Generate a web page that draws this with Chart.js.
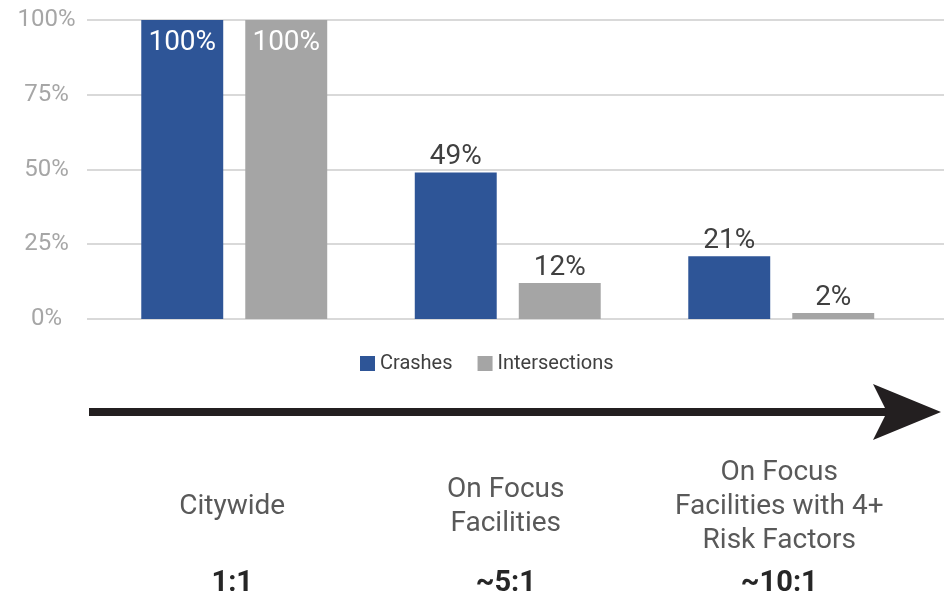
<!DOCTYPE html>
<html>
<head>
<meta charset="utf-8">
<script src="https://cdn.jsdelivr.net/npm/chart.js@4"></script>
<style>
  html, body { margin: 0; padding: 0; background: #fff; }
  #wrap { width: 949px; height: 596px; }
</style>
</head>
<body>
<div id="wrap"><canvas id="chart"></canvas></div>
<script>
const categories = [["Citywide"], ["On Focus", "Facilities"], ["On Focus", "Facilities with 4+", "Risk Factors"]];
const ratios = ["1:1", "~5:1", "~10:1"];
const crashes = [100, 49, 21];
const intersections = [100, 12, 2];
const yTicks = [0, 25, 50, 75, 100];

const FONT = "Roboto, 'Noto Sans', sans-serif";

// gridlines run a little past the plot on both sides, like the original
const gridPlugin = {
    id: "wideGrid",
    beforeDatasetsDraw(chart) {
        const ctx = chart.ctx;
        const y = chart.scales.y;
        ctx.save();
        ctx.strokeStyle = "#d9d9d9";
        ctx.lineWidth = 2;
        y.ticks.forEach((t) => {
            const py = Math.round(y.getPixelForValue(t.value));
            ctx.beginPath();
            ctx.moveTo(87, py);
            ctx.lineTo(944, py);
            ctx.stroke();
        });
        ctx.restore();
    },
};

const valueLabels = {
    id: "valueLabels",
    afterDatasetsDraw(chart) {
        const ctx = chart.ctx;
        ctx.save();
        ctx.font = "28px " + FONT;
        ctx.textAlign = "center";
        ctx.textBaseline = "alphabetic";
        chart.data.datasets.forEach((ds, di) => {
            chart.getDatasetMeta(di).data.forEach((bar, i) => {
                const v = ds.data[i];
                if (v >= 100) {
                    ctx.fillStyle = "#ffffff";
                    ctx.fillText(v + "%", bar.x, bar.y + 30);
                } else {
                    ctx.fillStyle = "#404040";
                    ctx.fillText(v + "%", bar.x, bar.y - 8);
                }
            });
        });
        ctx.restore();
    },
};

const extras = {
    id: "extras",
    afterDraw(chart) {
        const ctx = chart.ctx;
        const x = chart.scales.x;
        ctx.save();

        // legend
        ctx.font = "20px " + FONT;
        ctx.textBaseline = "middle";
        ctx.textAlign = "left";
        let lx = 360;
        chart.data.datasets.forEach((ds) => {
            ctx.fillStyle = ds.backgroundColor;
            ctx.fillRect(lx, 356, 15, 15);
            ctx.fillStyle = "#404040";
            ctx.fillText(ds.label, lx + 20, 364);
            lx += 20 + ctx.measureText(ds.label).width + 25;
        });

        // arrow
        ctx.fillStyle = "#231f20";
        ctx.fillRect(89, 408, 800, 8);
        ctx.beginPath();
        ctx.moveTo(873, 384);
        ctx.lineTo(941, 412);
        ctx.lineTo(873, 440);
        ctx.lineTo(887, 412);
        ctx.closePath();
        ctx.fill();

        // category captions and ratios
        ctx.textAlign = "center";
        categories.forEach((lines, i) => {
            const cx = x.getPixelForValue(i) - 2;
            ctx.font = "28px " + FONT;
            ctx.fillStyle = "#595959";
            lines.forEach((line, j) => {
                ctx.fillText(line, cx, 507 + (j - (lines.length - 1) / 2) * 34);
            });
            ctx.font = "bold 29px " + FONT;
            ctx.fillStyle = "#262626";
            ctx.fillText(ratios[i], cx, 584);
        });
        ctx.restore();
    },
};

new Chart(document.getElementById("chart").getContext("2d"), {
    type: "bar",
    data: {
        labels: categories,
        datasets: [
            {
                label: "Crashes",
                data: crashes,
                backgroundColor: "#2e5597",
                borderWidth: 0,
                categoryPercentage: 0.7605,
                barPercentage: 0.788,
            },
            {
                label: "Intersections",
                data: intersections,
                backgroundColor: "#a5a5a5",
                borderWidth: 0,
                categoryPercentage: 0.7605,
                barPercentage: 0.788,
            },
        ],
    },
    options: {
        responsive: true,
        maintainAspectRatio: false,
        animation: false,
        layout: {
            padding: { top: 20, left: 0, right: 31, bottom: 277 },
        },
        scales: {
            x: {
                display: false,
            },
            y: {
                min: 0,
                max: 100,
                afterBuildTicks: (s) => {
                    s.ticks = yTicks.map((v) => ({ value: v }));
                },
                afterFit: (s) => {
                    s.width = 97.5;
                    // tick padding would otherwise push the plot down
                    s.paddingTop = 0;
                    s.paddingBottom = 0;
                },
                grid: { display: false },
                border: { display: false },
                ticks: {
                    padding: 14,
                    crossAlign: "center",
                    color: "#a6a6a6",
                    font: { family: FONT, size: 24 },
                    callback: (v) => v + "%",
                },
            },
        },
        plugins: {
            legend: { display: false },
            tooltip: { enabled: false },
        },
    },
    plugins: [gridPlugin, valueLabels, extras],
});
</script>
</body>
</html>
